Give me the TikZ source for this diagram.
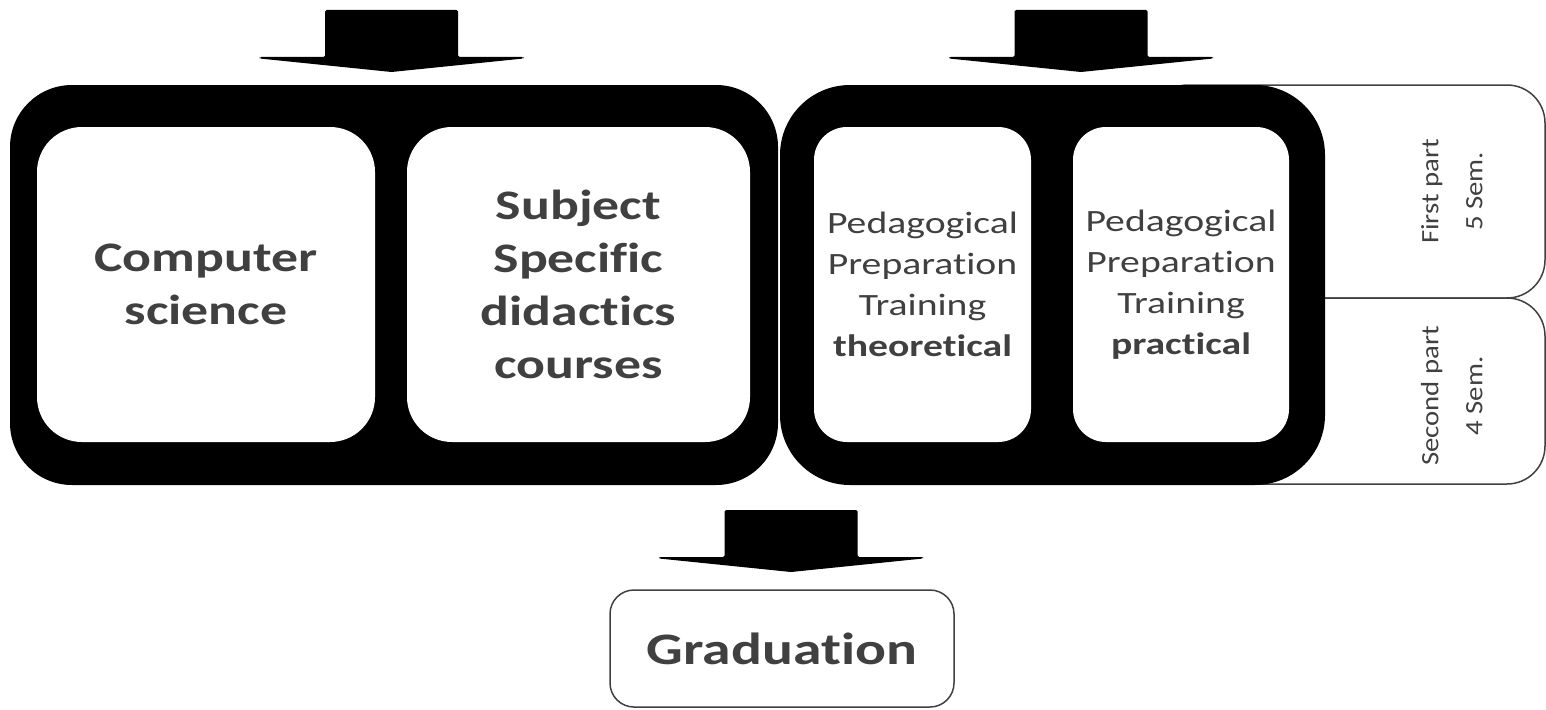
\documentclass[tikz,border=0pt]{standalone}
\usepackage{fontspec}
\setmainfont{Carlito}[FakeStretch=1.28, Ligatures=NoCommon]
\newfontfamily\sidefont{Carlito}[FakeStretch=1.15, Ligatures=NoCommon]
\usetikzlibrary{positioning}
\definecolor{txtgray}{HTML}{404040}

\begin{document}
\begin{tikzpicture}[x=1pt, y=-1pt,
	blackframe/.style={fill=black, rounded corners=#1, inner sep=0pt},
	course/.style={fill=white, rounded corners=#1, text=txtgray, align=center, inner sep=0pt},
	bigtxt/.style={font=\fontsize{42}{53}\selectfont\bfseries},
	pedtxt/.style={font=\fontsize{31}{41}\selectfont},
	side/.style={draw=txtgray, line width=1.5pt, fill=white, rounded corners=#1, inner sep=0pt},
	sidetxt/.style={text=txtgray, align=center, rotate=90, font=\sidefont\fontsize{25}{44}\selectfont},
	blockarr/.pic={\fill[black, rounded corners=1.5pt] (-66.5,0) -- (66.5,0) -- (66.5,47) -- (132,47) -- (132,48.5) -- (0,62) -- (-132,48.5) -- (-132,47) -- (-66.5,47) -- cycle;}
	]
	\useasboundingbox (0,0) rectangle (1546,709);
	
	% semester boxes behind the right frame
	\node (first) at (1347.5,191.5) [side=38, minimum width=395, minimum height=213] {};
	\node (second) at (1347.5,391) [side=38, minimum width=395, minimum height=186] {};
	\node at ([xshift=-94]first.east) [sidetxt] {First part\\5 Sem.};
	\node at ([xshift=-94,yshift=-5]second.east) [sidetxt] {Second part\\4 Sem.};
	
	% frames
	\node (leftframe) at (394,285) [blackframe=62, minimum width=768, minimum height=400] {};
	\node (rightframe) at (1052.5,285) [blackframe=70, minimum width=545, minimum height=400] {};
	
	\node (cs) at (206,284.5) [course=45, bigtxt, minimum width=338, minimum height=315] {Computer\\science};
	\node (sd) at (578.5,284.5) [course=45, bigtxt, minimum width=343, minimum height=315] {Subject\\Specific\\didactics\\courses};
	\node (pt) at (922.5,284.5) [course=33, pedtxt, minimum width=217, minimum height=315] {Pedagogical\\Preparation\\Training\\\textbf{theoretical}};
	\node (pp) at (1181,284.5) [course=33, pedtxt, minimum width=216, minimum height=315] {Pedagogical\\Preparation\\Training\\\textbf{practical}};
	
	\node (grad) at (782,648.5) [side=24, minimum width=344, minimum height=117, text=txtgray, font=\fontsize{45}{54}\selectfont\bfseries] {Graduation};
	
	% arrows
	\pic at (391.5,10) {blockarr};
	\pic at (1081,10) {blockarr};
	\pic at (791,510) {blockarr};
\end{tikzpicture}
\end{document}
